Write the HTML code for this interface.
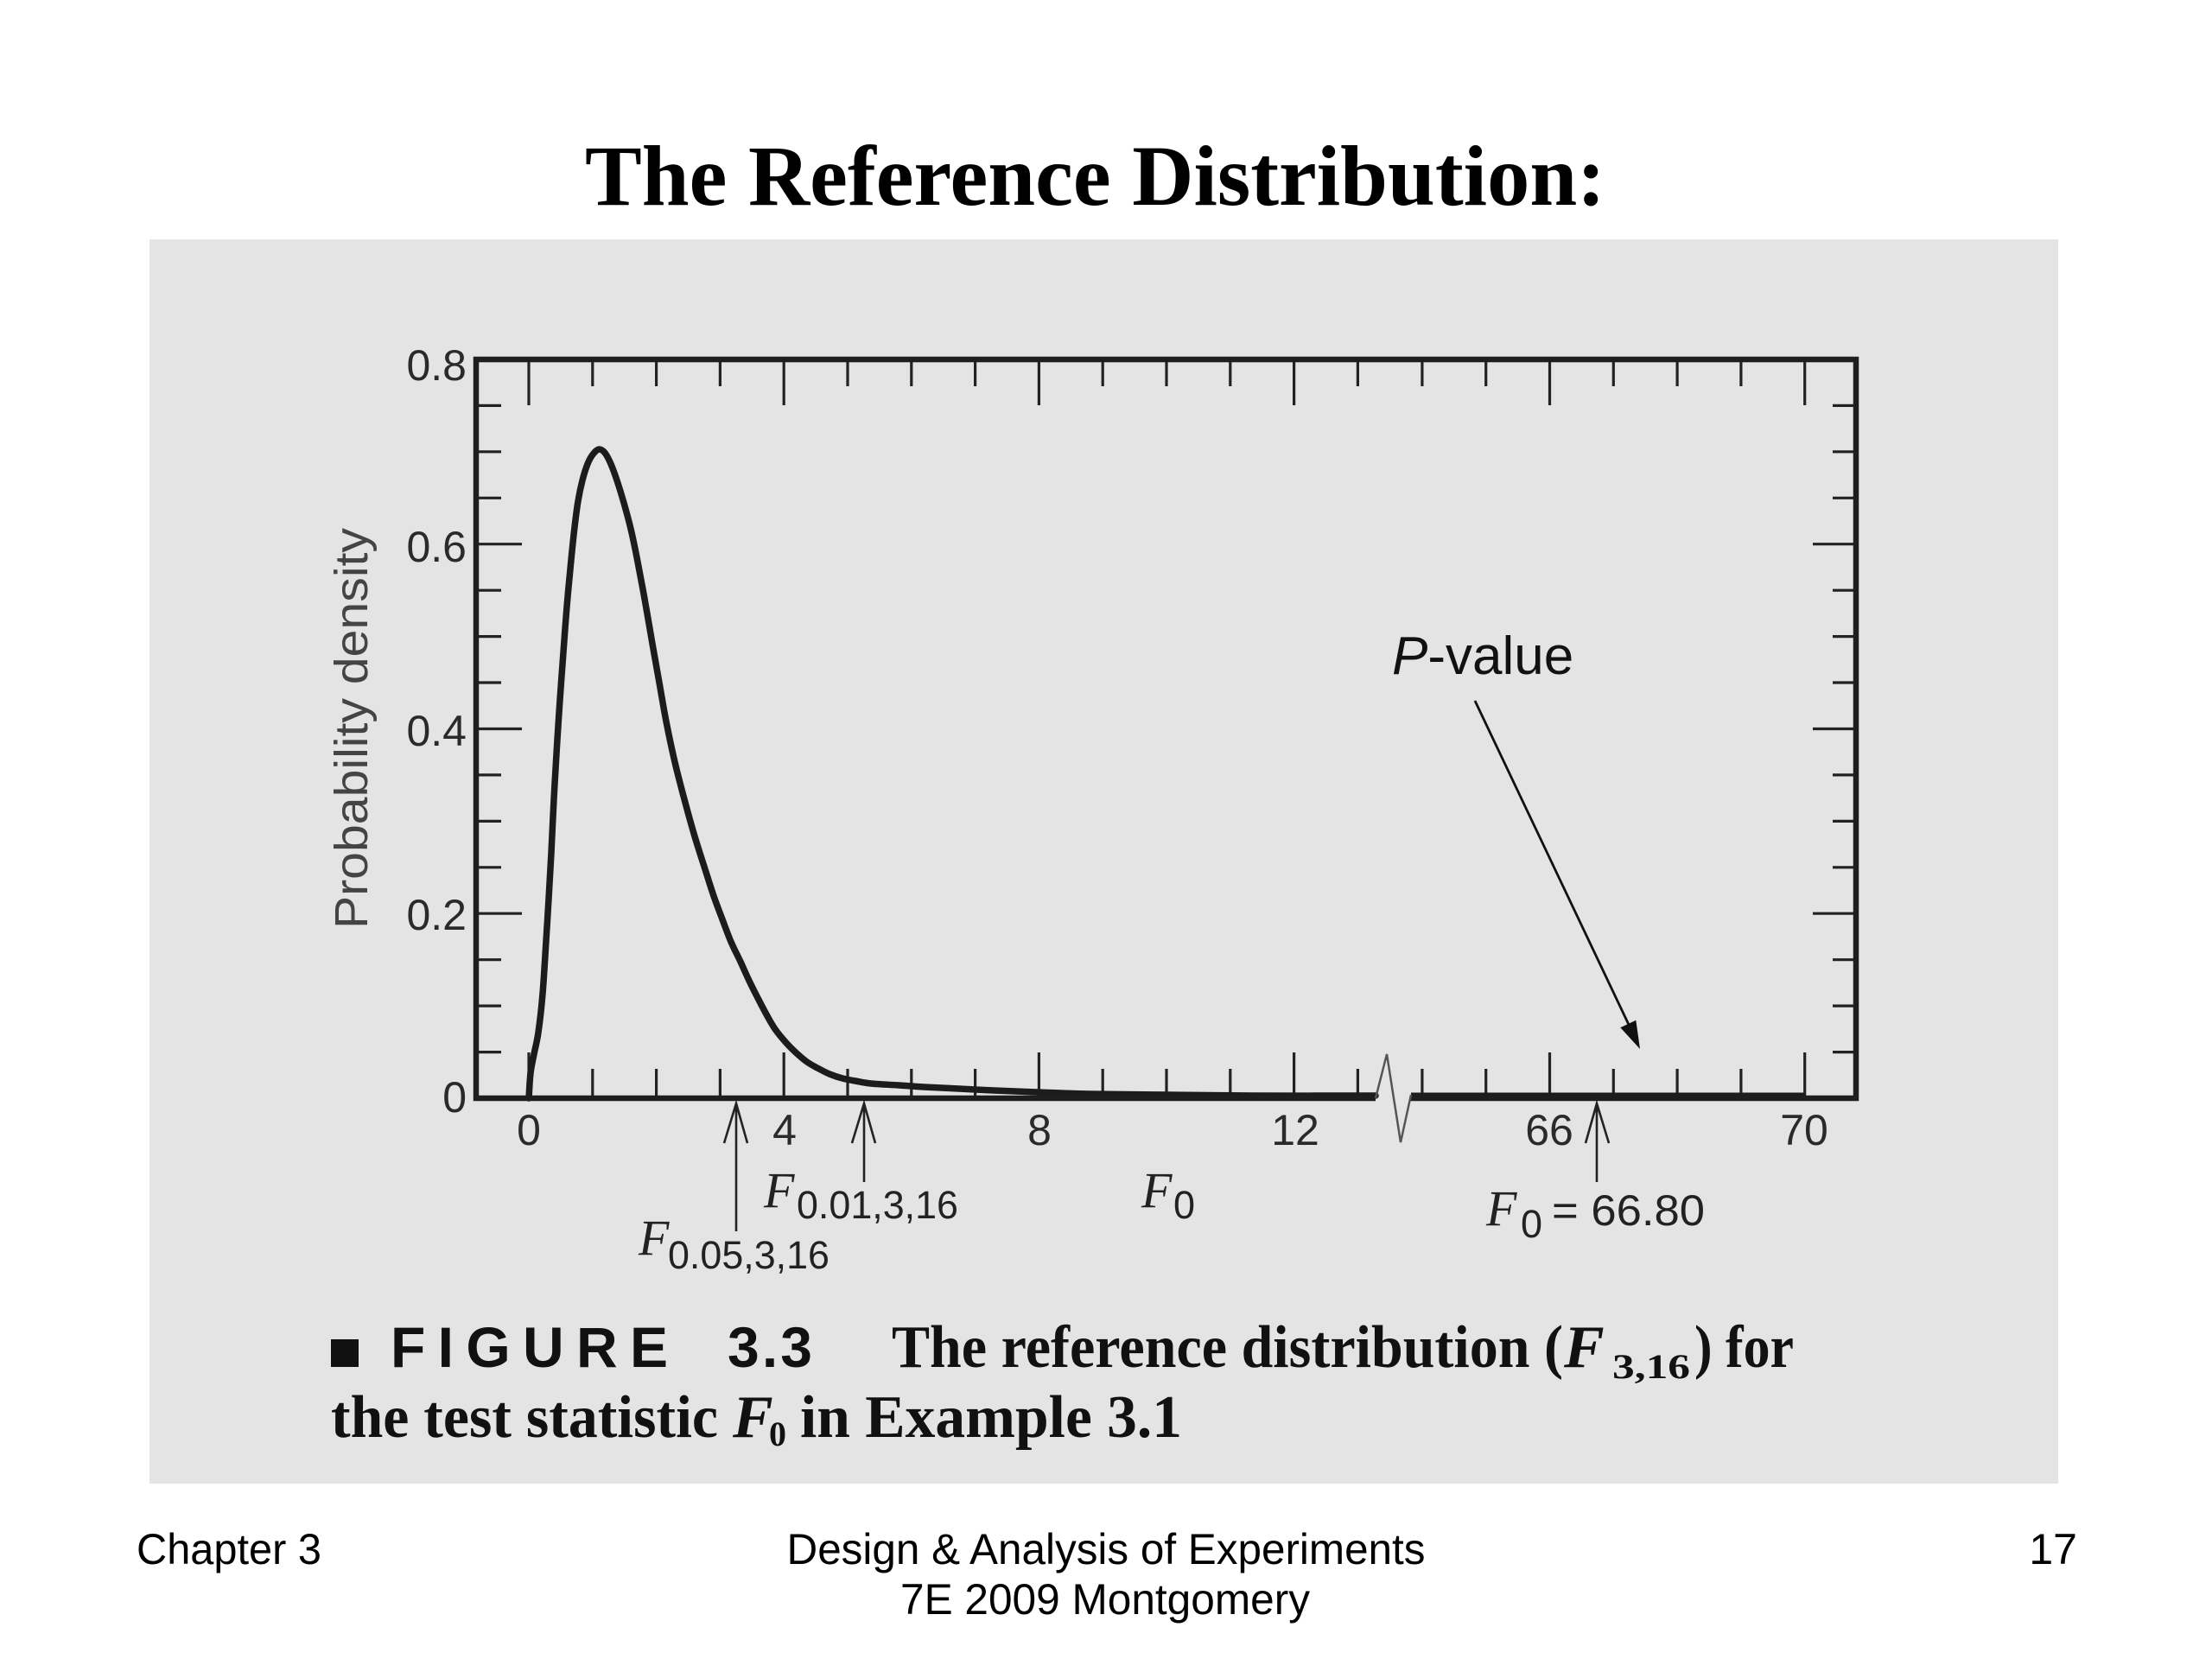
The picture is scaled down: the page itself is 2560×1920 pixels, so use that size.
<!DOCTYPE html>
<html>
<head>
<meta charset="utf-8">
<style>
html,body{margin:0;padding:0;background:#fff;}
svg{display:block;}
</style>
</head>
<body>
<svg width="2560" height="1920" viewBox="0 0 2560 1920" xmlns="http://www.w3.org/2000/svg">
<rect x="0" y="0" width="2560" height="1920" fill="#ffffff"/>

<!-- Title -->
<text x="677" y="237" font-family="Liberation Serif, serif" font-weight="bold" font-size="100" textLength="1181" lengthAdjust="spacingAndGlyphs" fill="#000">The Reference Distribution:</text>

<!-- Gray panel -->
<rect x="173" y="277" width="2209" height="1440" fill="#e4e4e4"/>

<!-- Ticks -->
<g stroke="#222" stroke-width="3.2" fill="none">
  <path d="M685.8 416V447 M759.6 416V447 M833.4 416V447 M981 416V447 M1054.8 416V447 M1128.6 416V447 M1276.2 416V447 M1350 416V447 M1423.8 416V447 M1571.4 416V447 M1645.9 416V447 M1719.7 416V447 M1867.3 416V447 M1941.1 416V447 M2014.9 416V447"/>
  <path d="M612 416V469 M907.2 416V469 M1202.4 416V469 M1497.6 416V469 M1793.5 416V469 M2088.7 416V469"/>
  <path d="M685.8 1271V1237 M759.6 1271V1237 M833.4 1271V1237 M981 1271V1237 M1054.8 1271V1237 M1128.6 1271V1237 M1276.2 1271V1237 M1350 1271V1237 M1423.8 1271V1237 M1571.4 1271V1237 M1645.9 1271V1237 M1719.7 1271V1237 M1867.3 1271V1237 M1941.1 1271V1237 M2014.9 1271V1237"/>
  <path d="M612 1271V1218 M907.2 1271V1218 M1202.4 1271V1218 M1497.6 1271V1218 M1793.5 1271V1218 M2088.7 1271V1218"/>
  <path d="M551 1217.6H580 M551 1164.1H580 M551 1110.7H580 M551 1003.8H580 M551 950.4H580 M551 896.9H580 M551 790H580 M551 736.6H580 M551 683.2H580 M551 576.3H580 M551 522.8H580 M551 469.4H580"/>
  <path d="M551 1057.2H604 M551 843.5H604 M551 629.7H604"/>
  <path d="M2148 1217.6H2121 M2148 1164.1H2121 M2148 1110.7H2121 M2148 1003.8H2121 M2148 950.4H2121 M2148 896.9H2121 M2148 790H2121 M2148 736.6H2121 M2148 683.2H2121 M2148 576.3H2121 M2148 522.8H2121 M2148 469.4H2121"/>
  <path d="M2148 1057.2H2098 M2148 843.5H2098 M2148 629.7H2098"/>
</g>

<!-- Curve -->
<polyline id="curve" fill="none" stroke="#1c1c1c" stroke-width="7.5" stroke-linejoin="round" stroke-linecap="round"
 points="612,1271 614,1242 618,1220 623,1195 628,1150 632,1089 635,1040 638,987 641,925 644.5,864 648,810 652,755 656,702 661,648 665,610 669,580 674,556 680,537 686,526 693,520 700,524 707,537 714,556 722,582 730,612 737,645 746,693 755,745 763,790 771,835 781,882 792,925 804,968 816,1006 826,1037 836,1064 846,1090 857,1113 867,1135 877,1155 887,1174 897,1191 910,1207 922,1219 934,1229 946,1236 960,1243 975,1248 990,1251 1008,1254 1040,1256 1069,1258 1110,1260 1150,1262 1200,1264 1260,1266 1350,1267 1450,1268 1592,1268"/>
<line x1="1633" y1="1268" x2="2088" y2="1268" stroke="#1c1c1c" stroke-width="7"/>

<!-- Frame -->
<path d="M1592 1271 H551 V416 H2148 V1271 H1632" fill="none" stroke="#1e1e1e" stroke-width="6.5" stroke-linejoin="miter"/>
<path d="M1592 1271 L1605 1220 L1621 1322 L1633 1267" fill="none" stroke="#555" stroke-width="2.5"/>

<!-- Y tick labels -->
<g font-family="Liberation Sans, Arial, sans-serif" font-size="50" fill="#2a2a2a" text-anchor="end">
  <text x="540" y="440">0.8</text>
  <text x="540" y="650">0.6</text>
  <text x="540" y="863">0.4</text>
  <text x="540" y="1076">0.2</text>
  <text x="540" y="1287">0</text>
</g>
<!-- X tick labels -->
<g font-family="Liberation Sans, Arial, sans-serif" font-size="50" fill="#2a2a2a" text-anchor="middle">
  <text x="612" y="1325">0</text>
  <text x="908" y="1325">4</text>
  <text x="1203" y="1325">8</text>
  <text x="1499" y="1325">12</text>
  <text x="1793" y="1325">66</text>
  <text x="2088" y="1325">70</text>
</g>

<!-- Y axis label -->
<text transform="translate(425,843) rotate(-90)" text-anchor="middle" font-family="Liberation Sans, Arial, sans-serif" font-size="54" textLength="464" lengthAdjust="spacingAndGlyphs" fill="#444">Probability density</text>

<!-- P-value annotation -->
<text x="1611" y="780" font-family="Liberation Sans, Arial, sans-serif" font-size="62" fill="#111"><tspan font-style="italic">P</tspan>-value</text>
<line x1="1707" y1="811" x2="1886" y2="1188" stroke="#111" stroke-width="2.8"/>
<polygon points="1898,1214 1875.3,1189.3 1893.3,1180.7" fill="#111"/>

<!-- F arrows -->
<g stroke="#222" stroke-width="2.6" fill="none">
  <path d="M852 1277 V1425 M838 1323 L852 1277 L865 1323"/>
  <path d="M1000 1277 V1368 M986 1323 L1000 1277 L1013 1323"/>
  <path d="M1848 1277 V1368 M1835 1323 L1848 1277 L1862 1323"/>
</g>

<!-- F labels -->
<g fill="#222">
  <text x="739" y="1452" font-family="Liberation Serif, serif" font-style="italic" font-size="58">F</text>
  <text x="773" y="1468" font-family="Liberation Sans, Arial, sans-serif" font-size="45" textLength="187" lengthAdjust="spacingAndGlyphs">0.05,3,16</text>

  <text x="884" y="1397" font-family="Liberation Serif, serif" font-style="italic" font-size="58">F</text>
  <text x="922" y="1410" font-family="Liberation Sans, Arial, sans-serif" font-size="45" textLength="187" lengthAdjust="spacingAndGlyphs">0.01,3,16</text>

  <text x="1321" y="1397" font-family="Liberation Serif, serif" font-style="italic" font-size="58">F</text>
  <text x="1358" y="1410" font-family="Liberation Sans, Arial, sans-serif" font-size="45">0</text>

  <text x="1720" y="1418" font-family="Liberation Serif, serif" font-style="italic" font-size="58">F</text>
  <text x="1760" y="1432" font-family="Liberation Sans, Arial, sans-serif" font-size="45">0</text>
  <text x="1796" y="1418" font-family="Liberation Sans, Arial, sans-serif" font-size="50" textLength="177" lengthAdjust="spacingAndGlyphs">= 66.80</text>
</g>

<!-- Figure caption -->
<rect x="383" y="1550" width="32" height="32" fill="#111"/>
<g fill="#111">
  <text x="452" y="1582" font-family="Liberation Sans, Arial, sans-serif" font-weight="bold" font-size="66" textLength="321" lengthAdjust="spacing">FIGURE</text>
  <text x="842" y="1582" font-family="Liberation Sans, Arial, sans-serif" font-weight="bold" font-size="66" textLength="98" lengthAdjust="spacing">3.3</text>

  <text x="1032" y="1582" font-family="Liberation Serif, serif" font-weight="bold" font-size="70" textLength="777" lengthAdjust="spacingAndGlyphs">The reference distribution (</text>
  <text x="1810" y="1582" font-family="Liberation Serif, serif" font-style="italic" font-weight="bold" font-size="70">F</text>
  <text x="1866" y="1595" font-family="Liberation Serif, serif" font-weight="bold" font-size="40" textLength="90" lengthAdjust="spacingAndGlyphs">3,16</text>
  <text x="1961" y="1582" font-family="Liberation Serif, serif" font-weight="bold" font-size="70" textLength="115" lengthAdjust="spacingAndGlyphs">) for</text>

  <text x="383" y="1663" font-family="Liberation Serif, serif" font-weight="bold" font-size="70" textLength="448" lengthAdjust="spacingAndGlyphs">the test statistic</text>
  <text x="848" y="1663" font-family="Liberation Serif, serif" font-style="italic" font-weight="bold" font-size="70">F</text>
  <text x="890" y="1673" font-family="Liberation Serif, serif" font-weight="bold" font-size="40">0</text>
  <text x="926" y="1663" font-family="Liberation Serif, serif" font-weight="bold" font-size="70" textLength="442" lengthAdjust="spacingAndGlyphs">in Example 3.1</text>
</g>

<!-- Footer -->
<g font-family="Liberation Sans, Arial, sans-serif" font-size="50" fill="#000">
  <text x="158" y="1810" textLength="214" lengthAdjust="spacingAndGlyphs">Chapter 3</text>
  <text x="1280" y="1810" text-anchor="middle" textLength="739" lengthAdjust="spacingAndGlyphs">Design &amp; Analysis of Experiments</text>
  <text x="1279" y="1868" text-anchor="middle" textLength="474" lengthAdjust="spacingAndGlyphs">7E 2009 Montgomery</text>
  <text x="2404" y="1810" text-anchor="end">17</text>
</g>
</svg>
<script>
(function(){
  try{
    var pl=document.getElementById('curve');
    var pts=pl.getAttribute('points').trim().split(/\s+/).map(function(s){return s.split(',').map(Number);});
    var d='M'+pts[0][0]+' '+pts[0][1];
    for(var i=0;i<pts.length-1;i++){
      var p0=pts[i-1]||pts[i],p1=pts[i],p2=pts[i+1],p3=pts[i+2]||p2;
      var c1x=p1[0]+(p2[0]-p0[0])/6,c1y=p1[1]+(p2[1]-p0[1])/6;
      var c2x=p2[0]-(p3[0]-p1[0])/6,c2y=p2[1]-(p3[1]-p1[1])/6;
      d+=' C'+c1x.toFixed(2)+' '+c1y.toFixed(2)+' '+c2x.toFixed(2)+' '+c2y.toFixed(2)+' '+p2[0]+' '+p2[1];
    }
    var p=document.createElementNS('http://www.w3.org/2000/svg','path');
    p.setAttribute('d',d);
    p.setAttribute('fill','none');
    p.setAttribute('stroke','#1c1c1c');
    p.setAttribute('stroke-width','7.5');
    p.setAttribute('stroke-linejoin','round');
    p.setAttribute('stroke-linecap','round');
    pl.parentNode.replaceChild(p,pl);
  }catch(e){}
})();
</script>
</body>
</html>
